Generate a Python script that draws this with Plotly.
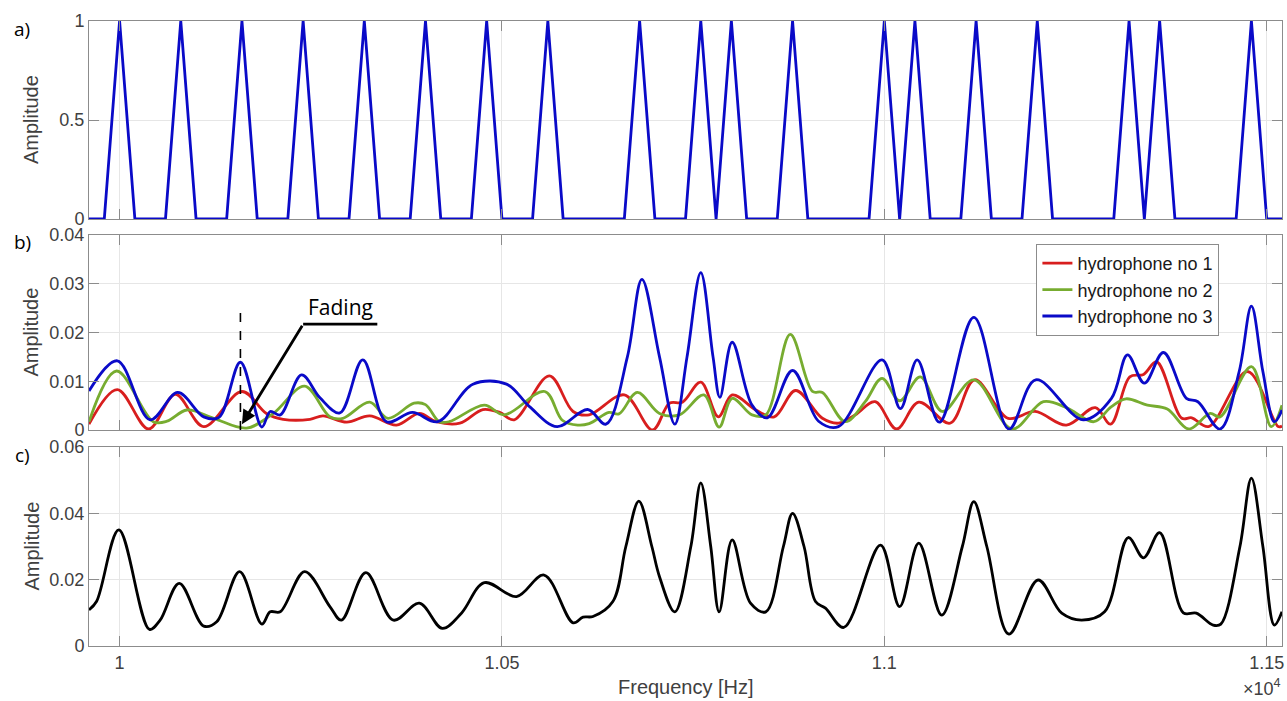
import plotly.graph_objects as go

# ---------------- data ----------------
# a) transmitted multitone signal (20 Hz sampling grid)
sig_freq = list(range(9960, 11540, 20))
sig_amp = [0, 0, 1, 0, 0, 0, 1, 0, 0, 0,
           1, 0, 0, 0, 1, 0, 0, 0, 1, 0,
           0, 0, 1, 0, 0, 0, 1, 0, 0, 0,
           1, 0, 0, 0, 0, 0, 1, 0, 0, 0,
           1, 0, 1, 0, 0, 0, 1, 0, 0, 0,
           0, 0, 1, 0, 1, 0, 0, 0, 1, 0,
           0, 0, 1, 0, 0, 0, 0, 0, 1, 0,
           1, 0, 0, 0, 0, 0, 1, 0, 0]

# b) hydrophone spectra
h1_freq = [9960, 9997, 10038, 10073, 10110, 10160, 10192, 10214, 10249, 10266,
           10297, 10327, 10362, 10392, 10414, 10445, 10475, 10497, 10516, 10562,
           10593, 10614, 10660, 10697, 10719, 10736, 10760, 10783, 10801, 10832,
           10856, 10884, 10919, 10940, 10962, 10988, 11016, 11045, 11086, 11118,
           11162, 11197, 11238, 11276, 11296, 11321, 11339, 11356, 11389, 11402,
           11424, 11475, 11515, 11520]
h1_amp = [0.0012, 0.0083, 0.0002, 0.0073, 0.0007, 0.0079, 0.0034, 0.0022, 0.0022, 0.0029,
          0.0016, 0.0029, 0.0010, 0.0034, 0.0017, 0.0014, 0.0042, 0.0036, 0.0021, 0.0111,
          0.0038, 0.0031, 0.0072, 0.0000, 0.0055, 0.0057, 0.0098, 0.0027, 0.0072, 0.0041,
          0.0027, 0.0081, 0.0024, 0.0014, 0.0031, 0.0058, 0.0002, 0.0057, 0.0014, 0.0103,
          0.0024, 0.0038, 0.0010, 0.0046, 0.0012, 0.0109, 0.0114, 0.0140, 0.0024, 0.0025,
          0.0007, 0.0120, 0.0007, 0.0008]

h2_freq = [9960, 9996, 10044, 10062, 10088, 10123, 10166, 10201, 10242, 10275,
           10292, 10327, 10351, 10385, 10400, 10418, 10431, 10477, 10503, 10556,
           10579, 10599, 10614, 10640, 10653, 10677, 10706, 10732, 10764, 10784,
           10801, 10827, 10845, 10877, 10906, 10919, 10949, 10975, 10997, 11020,
           11047, 11076, 11117, 11167, 11208, 11238, 11274, 11297, 11316, 11344,
           11370, 11398, 11426, 11439, 11480, 11506, 11520]
h2_amp = [0.0017, 0.0121, 0.0017, 0.0018, 0.0041, 0.0024, 0.0004, 0.0034, 0.0090, 0.0027,
          0.0024, 0.0057, 0.0024, 0.0055, 0.0052, 0.0017, 0.0017, 0.0051, 0.0031, 0.0079,
          0.0020, 0.0010, 0.0013, 0.0036, 0.0033, 0.0077, 0.0034, 0.0031, 0.0072, 0.0006,
          0.0065, 0.0031, 0.0031, 0.0196, 0.0079, 0.0077, 0.0017, 0.0058, 0.0106, 0.0060,
          0.0109, 0.0038, 0.0103, 0.0002, 0.0058, 0.0046, 0.0017, 0.0048, 0.0064, 0.0051,
          0.0043, 0.0002, 0.0034, 0.0027, 0.0130, 0.0007, 0.0051]

h3_freq = [9960, 9997, 10040, 10076, 10110, 10130, 10158, 10186, 10197, 10210,
           10238, 10262, 10288, 10318, 10349, 10383, 10416, 10462, 10506, 10536,
           10572, 10612, 10636, 10664, 10683, 10706, 10726, 10742, 10760, 10776,
           10785, 10801, 10827, 10847, 10880, 10914, 10940, 10997, 11021, 11043,
           11072, 11117, 11163, 11198, 11260, 11297, 11318, 11340, 11365, 11395,
           11410, 11439, 11464, 11480, 11495, 11510, 11520]
h3_amp = [0.0080, 0.0142, 0.0021, 0.0077, 0.0027, 0.0026, 0.0139, 0.0006, 0.0038, 0.0031,
          0.0113, 0.0066, 0.0035, 0.0144, 0.0017, 0.0036, 0.0017, 0.0094, 0.0094, 0.0048,
          0.0007, 0.0042, 0.0012, 0.0150, 0.0309, 0.0150, 0.0012, 0.0150, 0.0323, 0.0150,
          0.0067, 0.0180, 0.0051, 0.0025, 0.0122, 0.0018, 0.0007, 0.0144, 0.0044, 0.0144,
          0.0016, 0.0231, 0.0002, 0.0103, 0.0021, 0.0065, 0.0154, 0.0096, 0.0159, 0.0065,
          0.0058, 0.0002, 0.0120, 0.0254, 0.0120, 0.0017, 0.0041]

# c) combined spectrum
sum_freq = [9960, 9970, 9999, 10039, 10053, 10078, 10110, 10127, 10157, 10186,
            10197, 10210, 10242, 10275, 10290, 10322, 10358, 10392, 10422, 10447,
            10477, 10519, 10555, 10593, 10606, 10619, 10645, 10662, 10679, 10696,
            10706, 10726, 10747, 10760, 10773, 10784, 10801, 10825, 10845, 10868,
            10880, 10895, 10910, 10923, 10947, 10995, 11020, 11045, 11075, 11102,
            11117, 11134, 11163, 11201, 11232, 11258, 11288, 11319, 11339, 11360,
            11391, 11408, 11430, 11440, 11465, 11480, 11495, 11510, 11520]
sum_amp = [0.0109, 0.0135, 0.0350, 0.0050, 0.0078, 0.0189, 0.0060, 0.0073, 0.0224, 0.0066,
           0.0103, 0.0103, 0.0224, 0.0119, 0.0078, 0.0221, 0.0078, 0.0129, 0.0053, 0.0099,
           0.0191, 0.0149, 0.0214, 0.0070, 0.0087, 0.0089, 0.0134, 0.0300, 0.0437, 0.0300,
           0.0209, 0.0103, 0.0300, 0.0492, 0.0300, 0.0103, 0.0320, 0.0129, 0.0103, 0.0300,
           0.0400, 0.0300, 0.0134, 0.0114, 0.0056, 0.0304, 0.0119, 0.0310, 0.0093, 0.0300,
           0.0435, 0.0300, 0.0036, 0.0199, 0.0099, 0.0078, 0.0103, 0.0327, 0.0266, 0.0342,
           0.0100, 0.0099, 0.0063, 0.0066, 0.0300, 0.0506, 0.0300, 0.0063, 0.0103]

x_ticks = [10000, 10500, 11000, 11500]
x_tick_text = ["1", "1.05", "1.1", "1.15"]
ya_ticks = [0, 0.5, 1]
ya_text = ["0", "0.5", "1"]
yb_ticks = [0, 0.01, 0.02, 0.03, 0.04]
yb_text = ["0", "0.01", "0.02", "0.03", "0.04"]
yc_ticks = [0, 0.02, 0.04, 0.06]
yc_text = ["0", "0.02", "0.04", "0.06"]
series_names = ["hydrophone no 1", "hydrophone no 2", "hydrophone no 3"]
fading_freq = 10158

# ---------------- figure ----------------
RED, GREEN, BLUE = "#d81e1e", "#77ac30", "#0a0ac8"
AX = "#8c8c8c"
GRID = "#e6e6e6"
TXT = "#404040"
LW = 2.8

fig = go.Figure()
fig.add_trace(go.Scatter(x=sig_freq, y=sig_amp, mode="lines", xaxis="x", yaxis="y",
                         line=dict(color=BLUE, width=LW), showlegend=False))
for f, a, c, n in [(h1_freq, h1_amp, RED, series_names[0]),
                   (h2_freq, h2_amp, GREEN, series_names[1]),
                   (h3_freq, h3_amp, BLUE, series_names[2])]:
    fig.add_trace(go.Scatter(x=f, y=a, mode="lines", name=n, xaxis="x2", yaxis="y2",
                             line=dict(color=c, width=LW, shape="spline", smoothing=1.0)))
fig.add_trace(go.Scatter(x=sum_freq, y=sum_amp, mode="lines", xaxis="x3", yaxis="y3",
                         line=dict(color="black", width=LW, shape="spline", smoothing=1.0),
                         showlegend=False))

H = 625.0
def dom(top_px, bot_px):
    return [(646 - bot_px) / H, (646 - top_px) / H]

common = dict(showline=True, linecolor=AX, linewidth=1, mirror="ticks", ticks="inside",
              ticklen=10, tickcolor=AX, showgrid=True, gridcolor=GRID, gridwidth=1,
              zeroline=False, tickfont=dict(size=18, color=TXT))
xr = [9960, 11520]

fig.update_layout(
    width=1287, height=701,
    margin=dict(l=89, r=3, t=21, b=55),
    paper_bgcolor="white", plot_bgcolor="white",
    font=dict(family="Liberation Sans, Arial, sans-serif", color=TXT),
    xaxis=dict(common, domain=[0, 1], range=xr, anchor="y", tickvals=x_ticks,
               ticktext=x_tick_text, showticklabels=False),
    xaxis2=dict(common, domain=[0, 1], range=xr, anchor="y2", tickvals=x_ticks,
                ticktext=x_tick_text, showticklabels=False),
    xaxis3=dict(common, domain=[0, 1], range=xr, anchor="y3", tickvals=x_ticks,
                ticktext=x_tick_text),
    yaxis=dict(common, domain=dom(21, 219), range=[0, 1], anchor="x",
               tickvals=ya_ticks, ticktext=ya_text),
    yaxis2=dict(common, domain=dom(235, 430), range=[0, 0.04], anchor="x2",
                tickvals=yb_ticks, ticktext=yb_text),
    yaxis3=dict(common, domain=dom(447, 646), range=[0, 0.06], anchor="x3",
                tickvals=yc_ticks, ticktext=yc_text),
    legend=dict(x=(1038 - 89) / 1195, y=(646 - 244) / H, xanchor="left", yanchor="top",
                bgcolor="white", bordercolor=AX, borderwidth=1,
                font=dict(size=18, color="#1a1a1a"), tracegroupgap=0),
)

def px_x(p):
    return (p - 89) / 1195.0

def px_y(p):
    return (646 - p) / H

ann = []
for lbl, yp in [("a)", 29), ("b)", 242), ("c)", 455)]:
    ann.append(dict(text=lbl, x=px_x(22), y=px_y(yp), xref="paper", yref="paper",
                    xanchor="center", yanchor="middle", showarrow=False,
                    font=dict(family="Open Sans", size=19, color="black")))
for yp in [(21 + 219) / 2, (235 + 430) / 2, (447 + 646) / 2]:
    ann.append(dict(text="Amplitude", x=px_x(31), y=px_y(yp), xref="paper", yref="paper",
                    xanchor="center", yanchor="middle", showarrow=False, textangle=-90,
                    font=dict(size=20, color=TXT)))
ann.append(dict(text="Frequency [Hz]", x=px_x(687), y=px_y(687), xref="paper", yref="paper",
                xanchor="center", yanchor="middle", showarrow=False,
                font=dict(size=20, color=TXT)))
ann.append(dict(text="×10<sup>4</sup>", x=px_x(1285), y=px_y(687), xref="paper", yref="paper",
                xanchor="right", yanchor="middle", showarrow=False,
                font=dict(size=18, color=TXT)))
# Fading annotation
ann.append(dict(x=fading_freq + 2, y=0.0012, ax=10240, ay=0.0217, xref="x2", yref="y2",
                axref="x2", ayref="y2", showarrow=True, arrowhead=2, arrowsize=1.0,
                arrowwidth=2.8, arrowcolor="black", text=""))
ann.append(dict(text="Fading", x=10289, y=0.0219, xref="x2", yref="y2", showarrow=False,
                xanchor="center", yanchor="bottom",
                font=dict(family="Open Sans", size=21, color="black")))
fig.update_layout(annotations=ann)

fig.add_shape(type="line", xref="x2", yref="y2", x0=fading_freq, x1=fading_freq,
              y0=0, y1=0.025, line=dict(color="black", width=1.6, dash="dash"))
fig.add_shape(type="line", xref="x2", yref="y2", x0=10240, x1=10337,
              y0=0.0217, y1=0.0217, line=dict(color="black", width=2.8))

fig.write_html("out.html", config={"displayModeBar": False},
               post_script="document.body.style.margin='0px';document.body.style.overflow='hidden';")
